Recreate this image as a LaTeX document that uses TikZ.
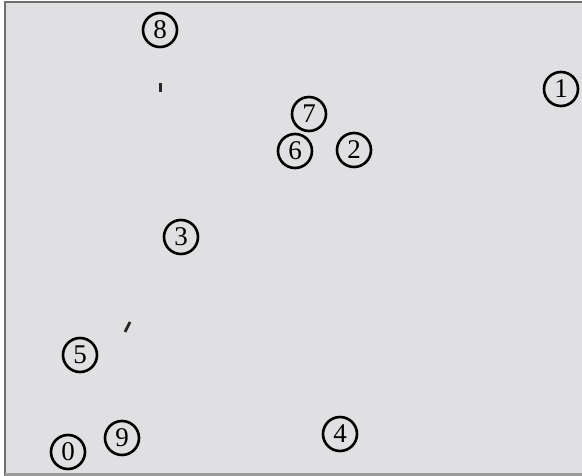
\documentclass[tikz,border=0pt]{standalone}
\usepackage{fontspec}
\setmainfont{Liberation Serif}
\usepackage{tikz}
\usetikzlibrary{positioning}

\definecolor{panelgrey}{HTML}{E0E0E2}
\definecolor{edgegrey}{HTML}{6E6E6E}
\definecolor{footgrey}{HTML}{9A9A9A}

\begin{document}
\begin{tikzpicture}[
  x=1pt, y=-1pt,
  sitemark/.style={
    circle, draw=black, line width=2.6pt,
    minimum size=34pt, inner sep=0pt,
    font=\fontsize{27}{27}\selectfont
  },
  tick/.style={black!85, line width=2.8pt}
]

% Panel and frame
\useasboundingbox (0,0) rectangle (582,476);
\fill[white] (0,0) rectangle (582,476);
\fill[panelgrey] (5,2) rectangle (582,476);
\draw[edgegrey, line width=2pt] (5,476) -- (5,2.5) -- (582,2.5);
\draw[footgrey, line width=3pt] (5,474.5) -- (582,474.5);

% Numbered sites
\node[sitemark] (n8) at (160, 30) {8};
\node[sitemark] (n1) at (561, 89) {1};
\node[sitemark] (n7) at (309, 114) {7};
\node[sitemark] (n6) at (295, 151) {6};
\node[sitemark] (n2) at (354, 150) {2};
\node[sitemark] (n3) at (181, 237) {3};
\node[sitemark] (n5) at (80, 355) {5};
\node[sitemark] (n4) at (340, 434) {4};
\node[sitemark] (n9) at (122, 438) {9};
\node[sitemark] (n0) at (68, 452) {0};

% Small marks
\draw[tick] (160.5, 83) -- (160.5, 92);
\draw[tick] (125, 332) -- (130, 322);

\end{tikzpicture}
\end{document}
